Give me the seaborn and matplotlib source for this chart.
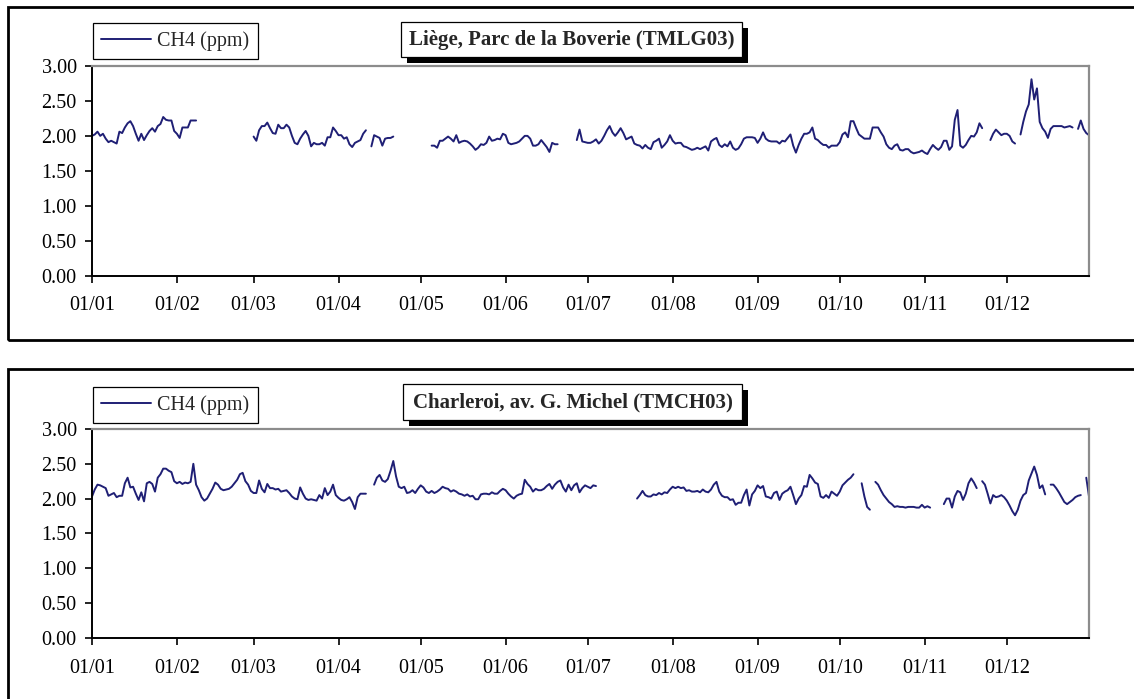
import numpy as np
import pandas as pd
import matplotlib
matplotlib.use("Agg")
import matplotlib.pyplot as plt
import matplotlib.dates as mdates
from matplotlib.patches import Rectangle
from matplotlib.lines import Line2D
import seaborn as sns

nan = np.nan

# ─── data: daily CH4 (ppm), one value per day of the year, nan = no measurement ───
dates = pd.date_range("2003-01-01", "2003-12-31", freq="D")

liege_ch4 = (
    [2.00, 2.02, 2.06, 2.00, 2.03, 1.96, 1.91, 1.93, 1.91, 1.89,
     2.06, 2.04, 2.12, 2.18, 2.21, 2.14, 2.03, 1.93, 2.03, 1.94,
     2.01, 2.07, 2.11, 2.06, 2.14, 2.17, 2.27, 2.23, 2.22, 2.22,
     2.07, 2.03, 1.97, 2.12, 2.12, 2.12, 2.22, 2.22, 2.22]
    + [nan] * 20
    + [1.99, 1.93, 2.08, 2.14, 2.14, 2.19, 2.11, 2.04, 2.03, 2.16,
       2.11, 2.11, 2.16, 2.12, 2.00, 1.90, 1.88, 1.96, 2.02, 2.07,
       2.00, 1.85, 1.90, 1.88, 1.88, 1.90, 1.86, 1.98, 1.98, 2.12,
       2.07, 2.01, 2.01, 1.96, 1.98, 1.88, 1.84, 1.90, 1.92, 1.94,
       2.03, 2.08]
    + [nan]
    + [1.85, 2.01, 1.99, 1.97, 1.86, 1.96, 1.97, 1.97, 1.99]
    + [nan] * 13
    + [1.86, 1.86, 1.83, 1.93, 1.93, 1.96, 1.99, 1.96, 1.92, 2.01,
       1.90, 1.92, 1.93, 1.92, 1.89, 1.85, 1.80, 1.83, 1.88, 1.87,
       1.90, 1.99, 1.93, 1.94, 1.96, 1.95, 2.03, 2.01, 1.90, 1.88,
       1.89, 1.90, 1.92, 1.96, 2.00, 2.00, 1.96, 1.86, 1.86, 1.88,
       1.94, 1.89, 1.84, 1.77, 1.90, 1.88, 1.88]
    + [nan] * 6
    + [1.94, 2.09, 1.92, 1.91, 1.90, 1.90, 1.92, 1.95, 1.89, 1.93,
       2.00, 2.08, 2.14, 2.05, 2.00, 2.05, 2.11, 2.04, 1.95, 1.97,
       1.99, 1.89, 1.87, 1.86, 1.82, 1.87, 1.83, 1.81, 1.91, 1.93,
       1.96, 1.83, 1.87, 1.92, 2.01, 1.93, 1.89, 1.90, 1.90, 1.85,
       1.84, 1.82, 1.80, 1.81, 1.83, 1.81, 1.83, 1.85, 1.79, 1.92,
       1.95, 1.97, 1.87, 1.84, 1.88, 1.85, 1.92, 1.83, 1.80, 1.82,
       1.88, 1.96, 1.98, 1.98, 1.98, 1.97, 1.90, 1.96, 2.05, 1.96,
       1.93, 1.92, 1.92, 1.92, 1.89, 1.93, 1.92, 1.97, 2.02, 1.86,
       1.76, 1.87, 1.96, 2.03, 2.03, 2.05, 2.12, 1.96, 1.94, 1.90,
       1.87, 1.87, 1.83, 1.86, 1.86, 1.86, 1.91, 2.02, 2.05, 1.98,
       2.21, 2.21, 2.11, 2.02, 1.99, 1.96, 1.96, 1.96, 2.12, 2.12,
       2.12, 2.05, 1.99, 1.88, 1.83, 1.81, 1.86, 1.88, 1.80, 1.79,
       1.81, 1.81, 1.77, 1.75, 1.76, 1.77, 1.79, 1.76, 1.74, 1.81,
       1.87, 1.83, 1.80, 1.84, 1.93, 1.93, 1.80, 1.85, 2.23, 2.37,
       1.86, 1.83, 1.87, 1.94, 2.00, 1.99, 2.05, 2.18, 2.11]
    + [nan] * 2
    + [1.94, 2.03, 2.09, 2.05, 2.01, 2.03, 2.03, 2.00, 1.92, 1.89]
    + [nan]
    + [2.02, 2.20, 2.35, 2.45, 2.81, 2.52, 2.68, 2.20, 2.11, 2.06,
       1.97, 2.10, 2.14, 2.14, 2.14, 2.14, 2.12, 2.13, 2.14, 2.12]
    + [nan]
    + [2.10, 2.22, 2.10, 2.04, 2.01]
)

charleroi_ch4 = (
    [2.03, 2.13, 2.20, 2.19, 2.17, 2.15, 2.04, 2.06, 2.08, 2.02,
     2.04, 2.04, 2.22, 2.30, 2.16, 2.17, 2.07, 1.98, 2.09, 1.96,
     2.22, 2.24, 2.21, 2.10, 2.30, 2.35, 2.43, 2.43, 2.40, 2.38,
     2.25, 2.22, 2.24, 2.21, 2.23, 2.22, 2.24, 2.50, 2.20, 2.12,
     2.02, 1.97, 2.00, 2.07, 2.14, 2.23, 2.20, 2.14, 2.12, 2.13,
     2.14, 2.17, 2.22, 2.27, 2.35, 2.37, 2.25, 2.20, 2.11, 2.08,
     2.08, 2.26, 2.14, 2.09, 2.21, 2.15, 2.15, 2.13, 2.14, 2.10,
     2.11, 2.12, 2.08, 2.03, 2.00, 1.99, 2.16, 2.07, 2.00, 1.98,
     1.99, 1.98, 1.97, 2.05, 2.00, 2.15, 2.05, 2.10, 2.20, 2.05,
     2.01, 1.98, 1.97, 1.99, 2.02, 1.95, 1.85, 2.02, 2.07, 2.07,
     2.07]
    + [nan] * 2
    + [2.20, 2.30, 2.34, 2.26, 2.24, 2.28, 2.40, 2.54, 2.32, 2.17,
       2.15, 2.17, 2.08, 2.09, 2.12, 2.08, 2.14, 2.19, 2.16, 2.10,
       2.08, 2.11, 2.08, 2.10, 2.13, 2.17, 2.15, 2.14, 2.10, 2.12,
       2.10, 2.07, 2.06, 2.04, 2.06, 2.03, 2.04, 1.99, 1.99, 2.06,
       2.07, 2.07, 2.06, 2.09, 2.07, 2.07, 2.11, 2.14, 2.12, 2.07,
       2.03, 2.00, 2.04, 2.06, 2.07, 2.27, 2.21, 2.17, 2.10, 2.14,
       2.12, 2.12, 2.14, 2.18, 2.21, 2.14, 2.20, 2.24, 2.26, 2.16,
       2.10, 2.20, 2.12, 2.19, 2.22, 2.09, 2.15, 2.19, 2.17, 2.15,
       2.19, 2.18]
    + [nan] * 14
    + [2.00, 2.05, 2.11, 2.05, 2.03, 2.03, 2.06, 2.05, 2.08, 2.06,
       2.09, 2.08, 2.13, 2.17, 2.15, 2.17, 2.15, 2.16, 2.11, 2.12,
       2.10, 2.10, 2.11, 2.09, 2.13, 2.10, 2.09, 2.13, 2.20, 2.24,
       2.10, 2.04, 2.02, 2.02, 1.98, 1.99, 1.91, 1.94, 1.94, 2.05,
       2.13, 1.90, 2.06, 2.11, 2.19, 2.15, 2.18, 2.03, 2.02, 2.00,
       2.08, 2.10, 1.98, 2.07, 2.10, 2.12, 2.17, 2.05, 1.92, 2.00,
       2.05, 2.18, 2.17, 2.34, 2.29, 2.23, 2.21, 2.03, 2.01, 2.05,
       2.01, 2.10, 2.07, 2.04, 2.10, 2.19, 2.23, 2.27, 2.30, 2.35]
    + [nan] * 2
    + [2.22, 2.03, 1.88, 1.84]
    + [nan]
    + [2.24, 2.20, 2.12, 2.05, 2.00, 1.95, 1.92, 1.88, 1.89, 1.88,
       1.88, 1.87, 1.88, 1.88, 1.88, 1.87, 1.87, 1.91, 1.87, 1.89,
       1.87]
    + [nan] * 4
    + [1.92, 2.00, 2.00, 1.87, 2.03, 2.11, 2.09, 1.98, 2.07, 2.22,
       2.29, 2.23, 2.15]
    + [nan]
    + [2.25, 2.20, 2.07, 1.93, 2.05, 2.02, 2.03, 2.05, 2.02, 1.97,
       1.90, 1.82, 1.76, 1.84, 1.97, 2.05, 2.08, 2.26, 2.36, 2.46,
       2.34, 2.15, 2.19, 2.06]
    + [nan]
    + [2.20, 2.20, 2.15, 2.09, 2.02, 1.95, 1.92, 1.95, 1.98, 2.02,
       2.04, 2.05]
    + [nan]
    + [2.30, 2.03]
)

titles = ["Liège, Parc de la Boverie (TMLG03)", "Charleroi, av. G. Michel (TMCH03)"]
series = [liege_ch4, charleroi_ch4]
legend_label = "CH4 (ppm)"
y_ticks = [0.0, 0.5, 1.0, 1.5, 2.0, 2.5, 3.0]

# ─── style ───
sns.set_style("white")
plt.rcParams["font.family"] = ["Liberation Serif", "DejaVu Serif"]
LINE = "#1f1f75"
W, H = 1134, 699

fig = plt.figure(figsize=(W / 100, H / 100), dpi=100)


def fx(px):
    return px / W


def fy(py):
    return 1 - py / H


def frame_rect(x0, y0, x1, y1, **kw):
    fig.patches.append(Rectangle((fx(x0), fy(y1)), fx(x1) - fx(x0), fy(y0) - fy(y1),
                                 transform=fig.transFigure, figure=fig, **kw))


# panel layout in pixels
layout = [
    dict(frame=(8, 7, 1150, 340), ax=(92, 66, 1089, 275.6), leg=23, tbox=(401, 22, 742, 57)),
    dict(frame=(8, 369, 1150, 720), ax=(92, 429, 1089, 637.7), leg=387, tbox=(403, 384, 742, 420)),
]

for vals, title, lay in zip(series, titles, layout):
    # outer panel frame
    x0, y0, x1, y1 = lay["frame"]
    frame_rect(x0, y0, x1, y1, fill=False, ec="black", lw=2.0)

    ax_l, ax_t, ax_r, ax_b = lay["ax"]
    ax = fig.add_axes([fx(ax_l), fy(ax_b), fx(ax_r) - fx(ax_l), fy(ax_t) - fy(ax_b)])

    df = pd.DataFrame({"date": dates, "ch4": vals})
    df["seg"] = df["ch4"].isna().cumsum()
    df = df.dropna()
    sns.lineplot(data=df, x="date", y="ch4", units="seg", estimator=None,
                 color=LINE, lw=1.4, ax=ax, legend=False)

    ax.set_xlim(dates[0], dates[-1])
    ax.set_ylim(0, 3)
    ax.set_yticks(y_ticks)
    ax.yaxis.set_major_formatter(plt.FormatStrFormatter("%.2f"))
    ax.xaxis.set_major_locator(mdates.MonthLocator())
    ax.xaxis.set_major_formatter(mdates.DateFormatter("%d/%m"))
    ax.set_xlabel("")
    ax.set_ylabel("")
    ax.tick_params(axis="both", direction="out", length=5, width=1.2, color="black",
                   labelsize=14.5, labelcolor="black")
    ax.tick_params(axis="x", pad=10, bottom=True)
    ax.tick_params(axis="y", pad=6, left=True)
    for side in ["left", "bottom"]:
        ax.spines[side].set_color("black")
        ax.spines[side].set_linewidth(1.4)
    for side in ["top", "right"]:
        ax.spines[side].set_visible(True)
        ax.spines[side].set_color("#8c8c8c")
        ax.spines[side].set_linewidth(1.6)

    leg = ax.legend(handles=[Line2D([], [], color=LINE, lw=1.4)], labels=[legend_label],
                    loc="upper left", bbox_to_anchor=(fx(93), fy(lay["leg"])),
                    bbox_transform=fig.transFigure, fancybox=False, frameon=True,
                    edgecolor="black", framealpha=1, borderaxespad=0, borderpad=0.4,
                    handlelength=2.5, handletextpad=0.3, fontsize=14.5)
    leg.get_frame().set_linewidth(0.9)

    # title box with drop shadow
    bx0, by0, bx1, by1 = lay["tbox"]
    frame_rect(bx0 + 6, by0 + 6, bx1 + 6, by1 + 6, fc="black", ec="black", lw=0)
    frame_rect(bx0, by0, bx1, by1, fc="white", ec="black", lw=0.9)
    fig.text(fx((bx0 + bx1) / 2), fy((by0 + by1) / 2), title, ha="center", va="center",
             fontsize=15, fontweight="bold")

fig.savefig("out.png", dpi=100, facecolor="white")
